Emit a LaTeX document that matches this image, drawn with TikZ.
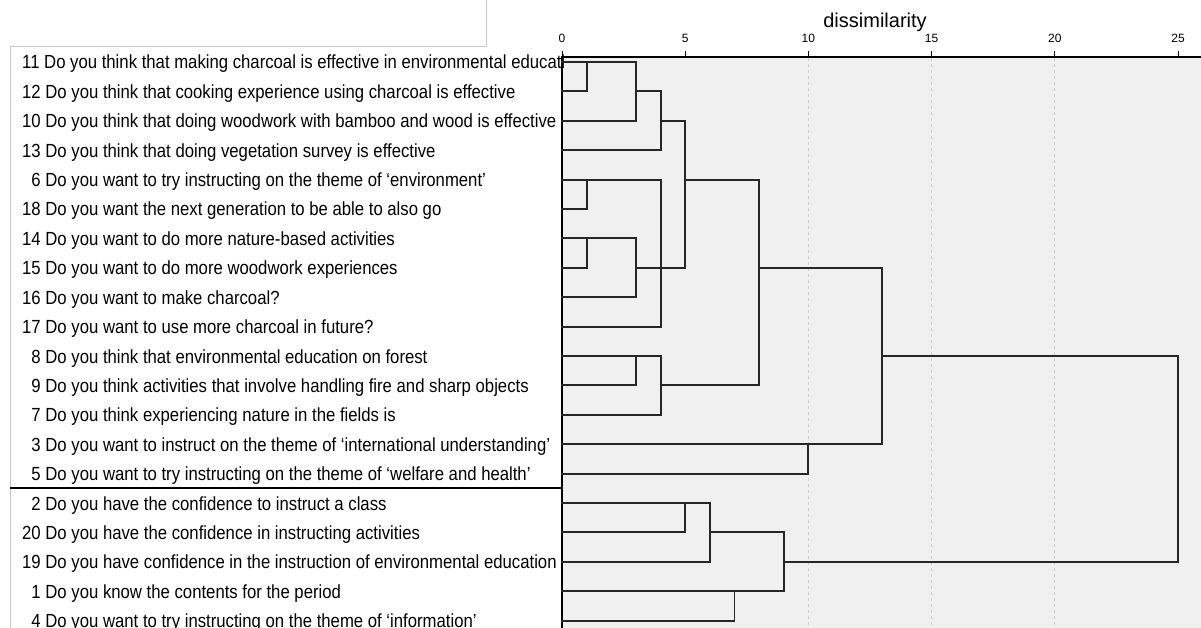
\documentclass[tikz,border=0pt]{standalone}
\usepackage{fontspec}
\setmainfont{Liberation Sans}
\newfontfamily\qfont[FakeStretch=0.88]{Liberation Sans}

\definecolor{plotbg}{HTML}{F0F0F0}
\definecolor{panelline}{HTML}{C8C8C8}
\definecolor{gridgray}{HTML}{CFCFCF}

\tikzset{
  question/.style={anchor=base west, inner sep=0pt, font=\qfont\fontsize{19}{19}\selectfont},
  link/.style={line width=1.9pt, black!85, line cap=rect},
  ticklabel/.style={inner sep=0pt, font=\fontsize{12}{12}\selectfont},
}

\begin{document}
\begin{tikzpicture}[x=1pt,y=-1pt]
  \useasboundingbox (0,0) rectangle (1201,628);

  % plot area
  \fill[plotbg] (562,57) rectangle (1201,628);
  \foreach \v in {10,15,20}
    \draw[gridgray, dashed, line width=0.8pt] (562+24.64*\v,58) -- (562+24.64*\v,628);

  % left panel frame
  \draw[panelline, line width=0.8pt] (486,0) -- (486,46) -- (10,46) -- (10,628);

  % question labels
  \begin{scope}
    \clip (0,0) rectangle (564,628);
    \foreach \num/\txt [count=\r, evaluate=\r as \ypos using 32.6+29.4*\r+7] in {
      11/Do you think that making charcoal is effective in environmental education,
      12/Do you think that cooking experience using charcoal is effective,
      10/Do you think that doing woodwork with bamboo and wood is effective,
      13/Do you think that doing vegetation survey is effective,
      \phantom{0}6/Do you want to try instructing on the theme of\ ‘environment’,
      18/Do you want the next generation to be able to also go,
      14/Do you want to do more nature-based activities,
      15/Do you want to do more woodwork experiences,
      16/Do you want to make charcoal?,
      17/Do you want to use more charcoal in future?,
      \phantom{0}8/Do you think that environmental education on forest,
      \phantom{0}9/Do you think activities that involve handling fire and sharp objects,
      \phantom{0}7/Do you think experiencing nature in the fields is,
      \phantom{0}3/Do you want to instruct on the theme of\ ‘international understanding’,
      \phantom{0}5/Do you want to try instructing on the theme of\ ‘welfare and health’,
      \phantom{0}2/Do you have the confidence to instruct a class,
      20/Do you have the confidence in instructing activities,
      19/Do you have confidence in the instruction of environmental education,
      \phantom{0}1/Do you know the contents for the period,
      \phantom{0}4/Do you want to try instructing on the theme of\ ‘information’}
      \node[question] (q\r) at (22,\ypos) {\num\ \txt};
  \end{scope}

  % group separator
  \draw[line width=1.5pt] (10,488) -- (562,488);

  % axis
  \node[inner sep=0pt, font=\fontsize{20}{20}\selectfont] (title) at (875,22) {dissimilarity};
  \draw[line width=1.5pt] (1201,57) -- (562,57) -- (562,628);
  \foreach \v in {0,5,...,25} {
    \draw[line width=0.9pt] (562+24.64*\v,57) -- ++(0,-6);
    \node[ticklabel] (lab\v) at (562+24.64*\v,38) {\v};
  }

  % dendrogram
  \begin{scope}[shift={(562,32.6)}, x=24.64pt, y=-29.4pt]
    \foreach \r/\a/\b in {1/0/3, 2/0/1, 2/3/4, 3/0/3, 3/4/5, 4/0/4,
        5/0/4, 5/5/8, 6/0/1, 7/0/3, 8/0/1, 8/3/5, 8/8/13, 9/0/3, 10/0/4,
        11/0/4, 11/13/25, 12/0/3, 12/4/8, 13/0/4, 14/0/13, 15/0/10,
        16/0/6, 17/0/5, 17/6/9, 18/0/6, 18/9/25, 19/0/9, 20/0/7}
      \draw[link] (\a,\r) -- (\b,\r);
    \foreach \v/\a/\b in {1/1/2, 3/1/3, 4/2/4, 5/3/8, 1/5/6, 4/5/10,
        1/7/8, 3/7/9, 8/5/12, 13/8/14, 3/11/12, 4/11/13, 10/14/15,
        25/11/18, 5/16/17, 6/16/18, 9/17/19, 7/19/20}
      \draw[link] (\v,\a) -- (\v,\b);
  \end{scope}
\end{tikzpicture}
\end{document}
